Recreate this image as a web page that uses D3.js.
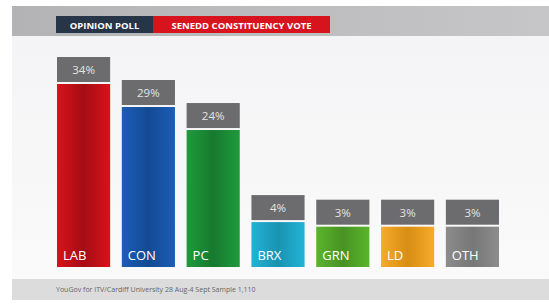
<!DOCTYPE html>
<html>
<head>
<meta charset="utf-8">
<script src="https://cdn.jsdelivr.net/npm/d3@7"></script>
<style>
  body { margin: 0; background: #fff; }
  svg { display: block; font-family: "Open Sans", "DejaVu Sans", sans-serif; }
</style>
</head>
<body>
<svg id="chart" width="549" height="305"></svg>
<script>
// poll data
const parties = ['LAB', 'CON', 'PC', 'BRX', 'GRN', 'LD', 'OTH'];
const shares = [34, 29, 24, 4, 3, 3, 3];
const partyColors = ['#d8121b', '#1b5db8', '#1f9a3c', '#22b3d6', '#5ab52b', '#f6ab2a', '#8c8c8c'];
const partyDark = ['#a50d14', '#134a93', '#177a2e', '#1a93b2', '#489223', '#d88d14', '#777777'];
const titleLeft = 'OPINION POLL';
const titleRight = 'SENEDD CONSTITUENCY VOTE';
const sourceNote = 'YouGov for ITV/Cardiff University 28 Aug-4 Sept Sample 1,110';

const svg = d3.select('#chart');
const data = parties.map((p, i) => ({ party: p, value: shares[i], color: partyColors[i], dark: partyDark[i] }));

const defs = svg.append('defs');
const panelGrad = defs.append('linearGradient').attr('id', 'panel').attr('x1', 0).attr('y1', 0).attr('x2', 0).attr('y2', 1);
panelGrad.append('stop').attr('offset', '0%').attr('stop-color', '#f4f4f6');
panelGrad.append('stop').attr('offset', '100%').attr('stop-color', '#fafafa');

data.forEach((d, i) => {
  const g = defs.append('linearGradient').attr('id', 'bar' + i).attr('x1', 0).attr('y1', 0).attr('x2', 1).attr('y2', 0);
  g.append('stop').attr('offset', '0%').attr('stop-color', d.color);
  g.append('stop').attr('offset', '50%').attr('stop-color', d.dark);
  g.append('stop').attr('offset', '100%').attr('stop-color', d.color);
});

// background pieces
svg.append('rect').attr('x', 12).attr('y', 36).attr('width', 537).attr('height', 243).attr('fill', 'url(#panel)');
const hdrGrad = defs.append('linearGradient').attr('id', 'hdr').attr('x1', 0).attr('y1', 0).attr('x2', 1).attr('y2', 0);
hdrGrad.append('stop').attr('offset', '0%').attr('stop-color', '#b3b3b5');
hdrGrad.append('stop').attr('offset', '100%').attr('stop-color', '#c6c6c8');
svg.append('rect').attr('x', 12).attr('y', 6).attr('width', 537).attr('height', 30).attr('fill', 'url(#hdr)');
svg.append('rect').attr('x', 12).attr('y', 279).attr('width', 537).attr('height', 21).attr('fill', '#dcdcdc');

// title tabs
svg.append('rect').attr('x', 56).attr('y', 16).attr('width', 97).attr('height', 17).attr('fill', '#263548');
svg.append('rect').attr('x', 153).attr('y', 16).attr('width', 177).attr('height', 17).attr('fill', '#d7141e');
svg.append('text').attr('x', 104.5).attr('y', 28.5).attr('text-anchor', 'middle')
  .attr('fill', '#fff').attr('font-size', 9.5).attr('font-weight', 700).text(titleLeft);
svg.append('text').attr('x', 241.5).attr('y', 28.5).attr('text-anchor', 'middle')
  .attr('fill', '#fff').attr('font-size', 9.5).attr('font-weight', 700).text(titleRight);

// scales
const bottom = 267;
const x = d3.scaleBand().domain(parties).range([57, 499]).paddingInner(0.18).paddingOuter(0);
const y = d3.scaleLinear().domain([0, 34]).range([240.5, 84]);

const bars = svg.append('g').selectAll('g').data(data).join('g');

bars.append('rect')
  .attr('x', d => x(d.party))
  .attr('y', d => y(d.value))
  .attr('width', x.bandwidth())
  .attr('height', d => bottom - y(d.value))
  .attr('fill', (d, i) => `url(#bar${i})`);

bars.append('rect')
  .attr('x', d => x(d.party))
  .attr('y', d => y(d.value) - 27)
  .attr('width', x.bandwidth())
  .attr('height', 25)
  .attr('fill', '#6c6c6e');

bars.append('text')
  .attr('x', d => x(d.party) + x.bandwidth() / 2)
  .attr('y', d => y(d.value) - 10)
  .attr('text-anchor', 'middle')
  .attr('fill', '#e4e4e4')
  .attr('font-size', 11.5)
  .text(d => d.value + '%');

bars.append('text')
  .attr('x', d => x(d.party) + 6)
  .attr('y', bottom - 7)
  .attr('fill', '#fff')
  .attr('font-size', 13)
  .text(d => d.party);

svg.append('text').attr('x', 56).attr('y', 292)
  .attr('fill', '#666').attr('font-size', 7).text(sourceNote);
</script>
</body>
</html>
